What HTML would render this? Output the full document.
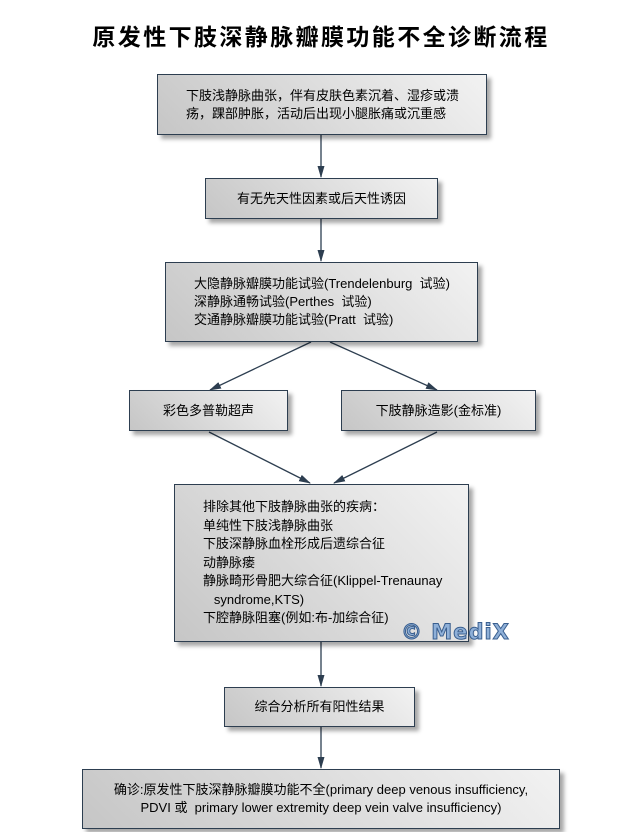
<!DOCTYPE html>
<html><head><meta charset="utf-8"><style>
*{margin:0;padding:0;box-sizing:border-box}
body{width:642px;height:832px;background:#fff;position:relative;overflow:hidden;font-family:"Liberation Sans","Noto Sans CJK SC",sans-serif;color:#000}
.t{position:absolute;left:0;width:642px;top:18px;text-align:center;font-size:23px;font-weight:bold;letter-spacing:2.4px;font-family:"Noto Sans CJK SC","WenQuanYi Zen Hei",sans-serif}
.b{position:absolute;border:1.5px solid #2d3e50;background:linear-gradient(45deg,#c6c6c6,#f2f2f2);box-shadow:4px 4px 4px rgba(0,0,0,0.35);font-size:13px;line-height:18px;display:flex;align-items:center;justify-content:center;text-align:center}
.l{text-align:left;justify-content:flex-start}
svg{position:absolute;left:0;top:0}
.w{position:absolute;left:401px;top:620px;font-size:21px;font-weight:bold;color:#8fb0d8;-webkit-text-stroke:1px #3a5f8f;letter-spacing:1px;font-family:"DejaVu Sans",sans-serif}
</style></head><body>
<div class="t">原发性下肢深静脉瓣膜功能不全诊断流程</div>
<svg width="642" height="832">
<defs><marker id="a" markerWidth="12" markerHeight="8" refX="11" refY="4" orient="auto" markerUnits="userSpaceOnUse"><path d="M0,0.5 L12,4 L0,7.5 Z" fill="#2d3e50"/></marker></defs>
<g stroke="#2d3e50" stroke-width="1.3" fill="none" marker-end="url(#a)">
<line x1="321" y1="135" x2="321" y2="177"/>
<line x1="321" y1="219" x2="321" y2="261"/>
<line x1="311" y1="342" x2="210" y2="390"/>
<line x1="330" y1="342" x2="437" y2="390"/>
<line x1="209" y1="432" x2="310" y2="483"/>
<line x1="437" y1="432" x2="334" y2="483"/>
<line x1="321" y1="642" x2="321" y2="686"/>
<line x1="321" y1="727" x2="321" y2="768"/>
</g></svg>
<div class="b l" style="left:157px;top:74px;width:330px;height:61px;padding-left:28px">下肢浅静脉曲张，伴有皮肤色素沉着、湿疹或溃<br>疡，踝部肿胀，活动后出现小腿胀痛或沉重感</div>
<div class="b" style="left:205px;top:178px;width:233px;height:41px">有无先天性因素或后天性诱因</div>
<div class="b l" style="left:165px;top:262px;width:313px;height:80px;padding-left:28px">大隐静脉瓣膜功能试验(Trendelenburg&nbsp; 试验)<br>深静脉通畅试验(Perthes&nbsp; 试验)<br>交通静脉瓣膜功能试验(Pratt&nbsp; 试验)</div>
<div class="b" style="left:129px;top:390px;width:159px;height:41px">彩色多普勒超声</div>
<div class="b" style="left:341px;top:390px;width:195px;height:41px">下肢静脉造影(金标准)</div>
<div class="b l" style="left:174px;top:484px;width:295px;height:158px;padding-left:28px;line-height:18.5px">排除其他下肢静脉曲张的疾病：<br>单纯性下肢浅静脉曲张<br>下肢深静脉血栓形成后遗综合征<br>动静脉瘘<br>静脉畸形骨肥大综合征(Klippel-Trenaunay<br>&nbsp;&nbsp; syndrome,KTS)<br>下腔静脉阻塞(例如:布-加综合征)</div>
<div class="b" style="left:224px;top:687px;width:191px;height:40px">综合分析所有阳性结果</div>
<div class="b" style="left:82px;top:769px;width:478px;height:60px">确诊:原发性下肢深静脉瓣膜功能不全(primary deep venous insufficiency,<br>PDVI 或&nbsp; primary lower extremity deep vein valve insufficiency)</div>
<div class="w">© MediX</div>
</body></html>
